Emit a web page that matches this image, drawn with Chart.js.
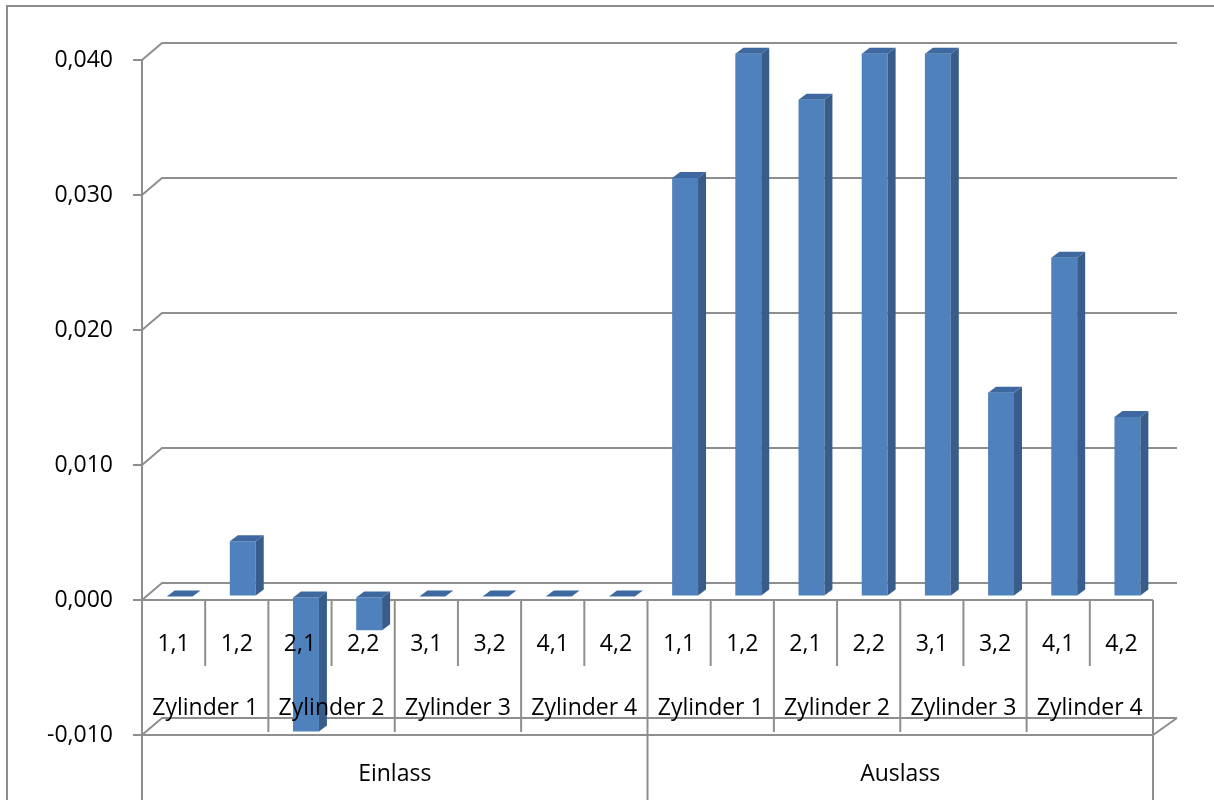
<!DOCTYPE html>
<html>
<head>
<meta charset="utf-8">
<script src="https://cdn.jsdelivr.net/npm/chart.js@4.4.1/dist/chart.umd.min.js"></script>
<style>
  html, body { margin: 0; padding: 0; background: #fff; }
  #wrap { width: 1214px; height: 800px; position: relative; }
</style>
</head>
<body>
<div id="wrap"><canvas id="myChart"></canvas></div>
<script>
// data
const valveLabels = ['1,1', '1,2', '2,1', '2,2', '3,1', '3,2', '4,1', '4,2'];
const cylinderLabels = ['Zylinder 1', 'Zylinder 2', 'Zylinder 3', 'Zylinder 4'];
const sideLabels = ['Einlass', 'Auslass'];
const einlassValues = [0, 0.0041, -0.0100, -0.0025, 0, 0, 0, 0];
const auslassValues = [0.0310, 0.0402, 0.0368, 0.0402, 0.0402, 0.0151, 0.0251, 0.0133];
const yTicks = [-0.010, 0.000, 0.010, 0.020, 0.030, 0.040];

const labels = [];
sideLabels.forEach(s => valveLabels.forEach((v, i) => labels.push([s, cylinderLabels[Math.floor(i / 2)], v])));
const values = einlassValues.concat(auslassValues);

const GRID = '#8e8e8e';
const FONT = '23px "Open Sans"';
const WALL_L = 20, WALL_R = 24, WALL_Y = 17;   // depth of the back wall
const SHIFT_X = 6, SHIFT_Y = -3.5;             // bars sit a little behind the front plane
const DEPTH_X = 8, DEPTH_Y = 6;                // depth of a bar

function line(ctx, pts) {
    ctx.beginPath();
    ctx.moveTo(pts[0][0], pts[0][1]);
    for (let i = 1; i < pts.length; i++) ctx.lineTo(pts[i][0], pts[i][1]);
    ctx.stroke();
}

function poly(ctx, pts, color) {
    ctx.beginPath();
    ctx.moveTo(pts[0][0], pts[0][1]);
    for (let i = 1; i < pts.length; i++) ctx.lineTo(pts[i][0], pts[i][1]);
    ctx.closePath();
    ctx.fillStyle = color;
    ctx.fill();
}

const box3d = {
    id: 'box3d',
    beforeDatasetsDraw(chart) {
        const { ctx, chartArea: a, scales: { x, y } } = chart;
        const H = chart.height;
        ctx.save();
        ctx.strokeStyle = GRID;
        ctx.lineWidth = 2;

        // back wall and left wall lines
        yTicks.forEach(v => {
            const yf = y.getPixelForValue(v);
            line(ctx, [[a.left, yf], [a.left + WALL_L, yf - WALL_Y], [a.right + WALL_R, yf - WALL_Y]]);
        });
        // floor front edge and right edge
        line(ctx, [[a.left, a.bottom], [a.right, a.bottom], [a.right + WALL_R, a.bottom - WALL_Y]]);
        // vertical axis line
        line(ctx, [[a.left, a.top], [a.left, H]]);

        // category axis at zero
        const y0 = y.getPixelForValue(0);
        line(ctx, [[a.left, y0], [a.right, y0]]);

        const n = labels.length;
        for (let i = 0; i <= n; i++) {
            let xp;
            if (i === 0) xp = a.left;
            else if (i === n) xp = a.right;
            else xp = (x.getPixelForValue(i - 1) + x.getPixelForValue(i)) / 2;
            let yEnd = y0 + 66;
            if (i % 2 === 0) yEnd = y0 + 132;
            if (i % 8 === 0) yEnd = H;
            line(ctx, [[xp, y0], [xp, yEnd]]);
        }
        ctx.restore();

        ctx.save();
        ctx.translate(SHIFT_X, SHIFT_Y);
    },
    afterDatasetsDraw(chart) {
        const { ctx } = chart;
        const meta = chart.getDatasetMeta(0);
        meta.data.forEach(el => {
            const p = el.getProps(['x', 'y', 'base', 'width'], true);
            const l = p.x - p.width / 2, r = p.x + p.width / 2;
            const t = Math.min(p.y, p.base), b = Math.max(p.y, p.base);
            poly(ctx, [[r, t], [r + DEPTH_X, t - DEPTH_Y], [r + DEPTH_X, b - DEPTH_Y], [r, b]], '#385D8A');
            poly(ctx, [[l, t], [l + DEPTH_X, t - DEPTH_Y], [r + DEPTH_X, t - DEPTH_Y], [r, t]], '#3E69A0');
        });
        ctx.restore();
    },
    afterDraw(chart) {
        const { ctx, scales: { x, y } } = chart;
        const y0 = y.getPixelForValue(0);
        ctx.save();
        ctx.font = FONT;
        ctx.fillStyle = '#000';
        ctx.textAlign = 'center';
        ctx.textBaseline = 'middle';
        labels.forEach((lab, i) => {
            ctx.fillText(lab[2], x.getPixelForValue(i), y0 + 44);
        });
        for (let g = 0; g < labels.length / 2; g++) {
            const cx = (x.getPixelForValue(2 * g) + x.getPixelForValue(2 * g + 1)) / 2;
            ctx.fillText(labels[2 * g][1], cx, y0 + 108);
        }
        for (let g = 0; g < labels.length / 8; g++) {
            const cx = (x.getPixelForValue(8 * g + 3) + x.getPixelForValue(8 * g + 4)) / 2;
            ctx.fillText(labels[8 * g][0], cx, y0 + 174);
        }
        // outer chart border
        ctx.strokeStyle = '#8c8c8c';
        ctx.lineWidth = 2;
        ctx.strokeRect(7, 6, chart.width + 20, chart.height + 20);
        ctx.restore();
    }
};

new Chart(document.getElementById('myChart'), {
    type: 'bar',
    data: {
        labels: labels,
        datasets: [{
            data: values,
            backgroundColor: '#4F81BD',
            borderWidth: 0,
            categoryPercentage: 1,
            barPercentage: 0.41,
            clip: false
        }]
    },
    options: {
        responsive: true,
        maintainAspectRatio: false,
        animation: false,
        devicePixelRatio: 1,
        layout: { padding: { left: 0, top: 60, right: 61, bottom: 65 } },
        plugins: {
            legend: { display: false },
            tooltip: { enabled: false }
        },
        scales: {
            x: { display: false },
            y: {
                min: -0.01,
                max: 0.04,
                afterFit(scale) { scale.width = 142; },
                afterBuildTicks(scale) { scale.ticks = yTicks.map(v => ({ value: v })); },
                border: { display: false },
                grid: { drawOnChartArea: false, drawTicks: true, tickLength: 9, color: GRID, lineWidth: 2 },
                ticks: {
                    padding: 20,
                    color: '#000',
                    font: { family: 'Open Sans', size: 23 },
                    callback: v => v.toFixed(3).replace('.', ',')
                }
            }
        }
    },
    plugins: [box3d]
});
</script>
</body>
</html>
